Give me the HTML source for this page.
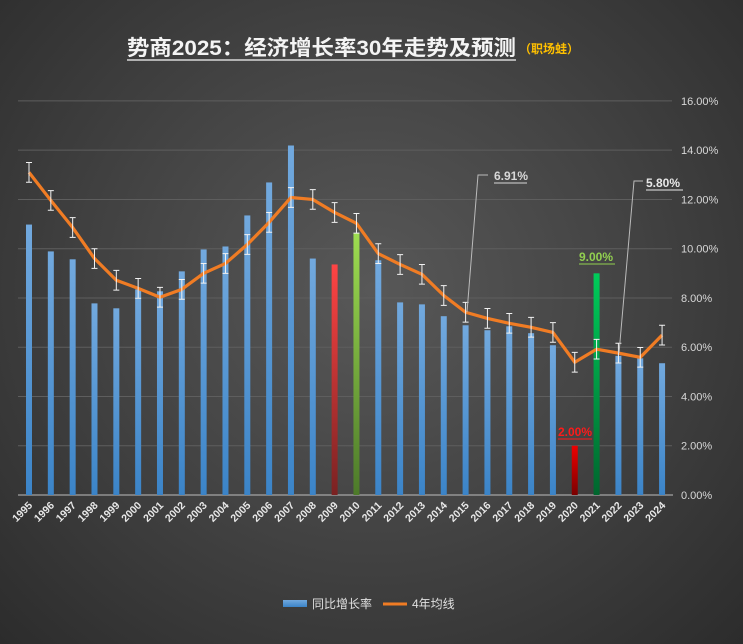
<!DOCTYPE html>
<html><head><meta charset="utf-8">
<style>
html,body{margin:0;padding:0;}
body{width:743px;height:644px;overflow:hidden;background:radial-gradient(ellipse at 50% 45%,#585858 0%,#454545 45%,#2c2c2c 100%);font-family:"Liberation Sans","Noto Sans CJK SC",sans-serif;}
svg{display:block}
</style></head>
<body>
<svg id="chart" width="743" height="644" xmlns="http://www.w3.org/2000/svg">
<defs>
<linearGradient id="gBlue" x1="0" y1="0" x2="0" y2="1"><stop offset="0" stop-color="#72a9de"/><stop offset="1" stop-color="#3b84c8"/></linearGradient>
<linearGradient id="gRed1" x1="0" y1="0" x2="0" y2="1"><stop offset="0" stop-color="#ff4444"/><stop offset="1" stop-color="#7a2222"/></linearGradient>
<linearGradient id="gGreen1" x1="0" y1="0" x2="0" y2="1"><stop offset="0" stop-color="#9ddc50"/><stop offset="1" stop-color="#4d7a2a"/></linearGradient>
<linearGradient id="gRed2" x1="0" y1="0" x2="0" y2="1"><stop offset="0" stop-color="#ee0000"/><stop offset="1" stop-color="#7a0000"/></linearGradient>
<linearGradient id="gGreen2" x1="0" y1="0" x2="0" y2="1"><stop offset="0" stop-color="#00cc5a"/><stop offset="1" stop-color="#00662e"/></linearGradient>
</defs>
<g>
<text x="127" y="55" fill="#f4f4f4" font-size="21" font-weight="bold" textLength="389" lengthAdjust="spacingAndGlyphs" font-family="Liberation Sans, Noto Sans CJK SC, sans-serif">势商2025：经济增长率30年走势及预测</text>
<line x1="127" y1="60" x2="516" y2="60" stroke="#d8d8d8" stroke-width="1.5"/>
<text x="519" y="53" fill="#ffc000" font-size="12" font-weight="bold" font-family="Liberation Sans, Noto Sans CJK SC, sans-serif">（职场蛙）</text>
</g>
<g id="grid"></g>
<g id="bars"></g>
<g id="line"></g>
<g id="xlabels"></g>
<g id="ylabels"></g>
<g id="annots"></g>
<g>
<g>
<rect x="283" y="600" width="24" height="7" fill="url(#gBlue)"/>
<text x="312" y="608" fill="#e0e0e0" font-size="12" font-family="Liberation Sans, Noto Sans CJK SC, sans-serif">同比增长率</text>
</g>
<g>
<line x1="383" y1="604" x2="407" y2="604" stroke="#f07c24" stroke-width="3"/>
<text x="412" y="608" fill="#e0e0e0" font-size="12" font-family="Liberation Sans, Noto Sans CJK SC, sans-serif">4年均线</text>
</g>
</g>
</svg>
<script>
const years=[1995,1996,1997,1998,1999,2000,2001,2002,2003,2004,2005,2006,2007,2008,2009,2010,2011,2012,2013,2014,2015,2016,2017,2018,2019,2020,2021,2022,2023,2024];
const growth=[10.98,9.89,9.57,7.78,7.58,8.35,8.27,9.08,9.97,10.09,11.35,12.69,14.19,9.6,9.36,10.62,9.53,7.82,7.74,7.26,6.89,6.69,6.85,6.57,6.08,2.0,9.0,5.65,5.55,5.35];
const avg4=[13.1,11.96,10.86,9.6,8.72,8.39,8.03,8.35,9.0,9.4,10.17,11.07,12.08,12.0,11.47,11.03,9.8,9.36,8.96,8.1,7.42,7.17,6.97,6.81,6.6,5.39,5.92,5.76,5.59,6.49];
const yTicks=[0,2,4,6,8,10,12,14,16];
const errAmt=0.4;
const NS="http://www.w3.org/2000/svg";
const X0=29,DX=21.83,Y0=495,PY=24.63;
const xs=i=>X0+i*DX;
const ys=v=>Y0-v*PY;
function mk(tag,attrs,parent){const e=document.createElementNS(NS,tag);for(const k in attrs)e.setAttribute(k,attrs[k]);parent.appendChild(e);return e;}
const grid=document.getElementById('grid'),ylab=document.getElementById('ylabels');
yTicks.forEach(t=>{
  if(t>0){const l=mk('line',{x1:18,x2:672,y1:ys(t),y2:ys(t),stroke:'#5e5e5e','stroke-width':1},grid);
  
  }
  const tx=mk('text',{x:681,y:ys(t)+4,fill:'#d8d8d8','font-size':11},ylab);
  tx.textContent=t.toFixed(2)+'%';
  
  
});
const ax=mk('line',{x1:18,x2:673,y1:Y0,y2:Y0,stroke:'#bdbdbd','stroke-width':1},grid);


const fills={2009:'url(#gRed1)',2010:'url(#gGreen1)',2020:'url(#gRed2)',2021:'url(#gGreen2)'};
const bars=document.getElementById('bars'),xl=document.getElementById('xlabels');
years.forEach((y,i)=>{
  const b=mk('rect',{x:xs(i)-3,y:ys(growth[i]),width:6,height:Y0-ys(growth[i]),fill:fills[y]||'url(#gBlue)'},bars);
  
  
  const t=mk('text',{x:0,y:0,fill:'#e8e8e8','font-size':10.5,'font-weight':'bold','text-anchor':'end',transform:`translate(${xs(i)+4},${Y0+11}) rotate(-45)`},xl);
  t.textContent=y;
  
  
});
const lg=document.getElementById('line');
const pts=avg4.map((v,i)=>xs(i)+','+ys(v)).join(' ');
const pl=mk('polyline',{points:pts,fill:'none',stroke:'#f07c24','stroke-width':3.2,'stroke-linejoin':'round'},lg);


avg4.forEach((v,i)=>{
  const x=xs(i),a=ys(v+errAmt),b=ys(v-errAmt);
  const g=mk('path',{d:`M${x},${a}V${b}M${x-3},${a}H${x+3}M${x-3},${b}H${x+3}`,stroke:'#f2f2f2','stroke-width':1,fill:'none'},lg);
  
  
});
const an=document.getElementById('annots');
function label(txt,x,y,col,w){
  const t=mk('text',{x:x,y:y,fill:col,'font-size':12,'font-weight':'bold'},an);
  t.textContent=txt;
  
  
  mk('line',{x1:x,x2:x+w,y1:y+3,y2:y+3,stroke:col,'stroke-width':1},an);
}
mk('path',{d:`M488,175H478L467,${ys(avg4[20])}`,stroke:'#bbbbbb','stroke-width':1,fill:'none'},an);
mk('path',{d:`M643,181H634L619,${ys(avg4[27])}`,stroke:'#bbbbbb','stroke-width':1,fill:'none'},an);
label('6.91%',494,180,'#d8d8d8',33);
label('5.80%',646,187,'#e8e8e8',37);
label('9.00%',579,261,'#92d050',36);
label('2.00%',558,436,'#ff1a1a',34);
</script>
</body></html>
